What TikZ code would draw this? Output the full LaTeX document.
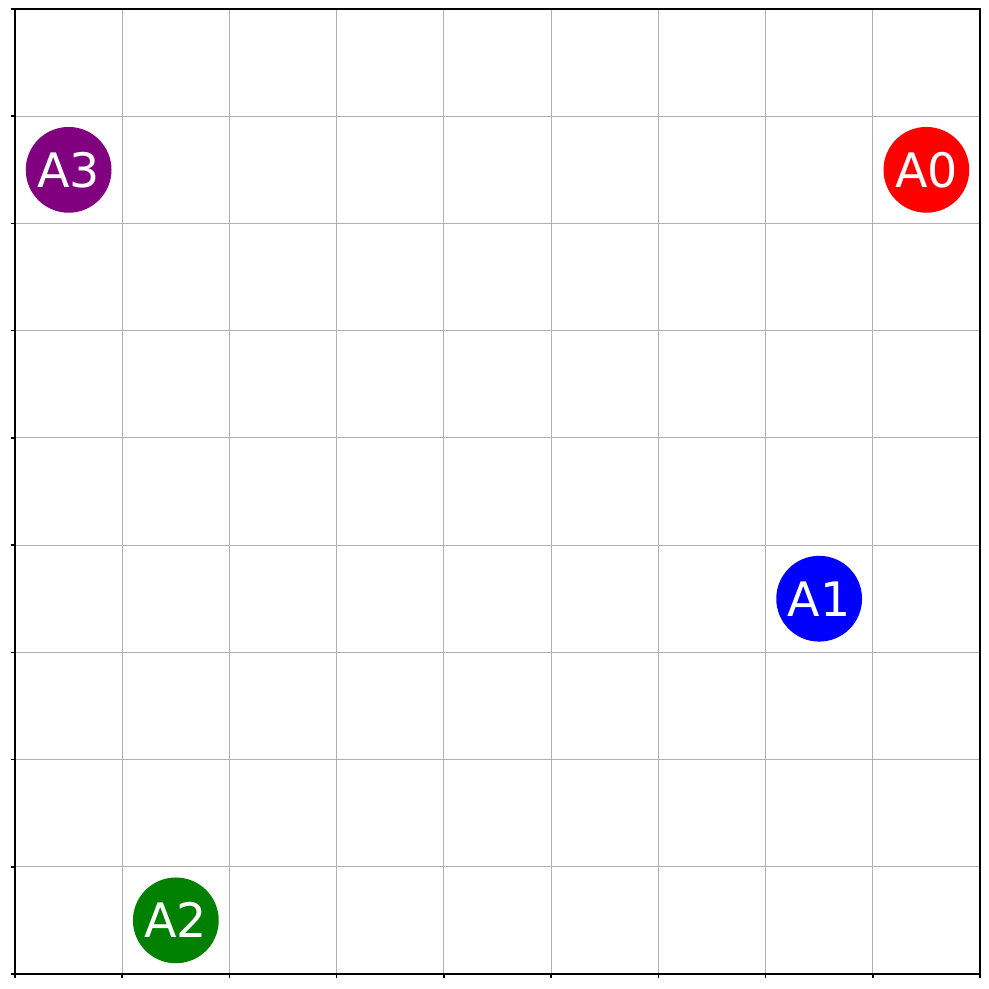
\documentclass[tikz,border=0pt]{standalone}
\usepackage{fontspec}
\setmainfont{DejaVu Sans}
\definecolor{gridgray}{RGB}{176,176,176}
\definecolor{agentgreen}{RGB}{0,128,0}
\definecolor{agentpurple}{RGB}{128,0,128}
\tikzset{
    agent/.style={circle, minimum size=0.8cm, inner sep=0pt, text=white,
        font=\fontsize{12.6}{15}\selectfont}
}
\begin{document}
\begin{tikzpicture}
    \useasboundingbox (-0.14,-0.14) rectangle (9.084,9.084);

    % Draw the grid
    \draw[gridgray, line width=0.3pt] (0,0) grid (9,9);

    % Draw the frame and the ticks
    \draw[line width=0.4pt] (0,0) rectangle (9,9);
    \foreach \i in {0,...,9} {
        \draw[line width=0.4pt] (\i,0) -- (\i,-0.04);
        \draw[line width=0.4pt] (0,\i) -- (-0.04,\i);
    }

    % Agents
    \node[agent, fill=red] (a0) at (8.5,7.5) {A0};
    \node[agent, fill=blue] (a1) at (7.5,3.5) {A1};
    \node[agent, fill=agentgreen] (a2) at (1.5,0.5) {A2};
    \node[agent, fill=agentpurple] (a3) at (0.5,7.5) {A3};

\end{tikzpicture}
\end{document}
